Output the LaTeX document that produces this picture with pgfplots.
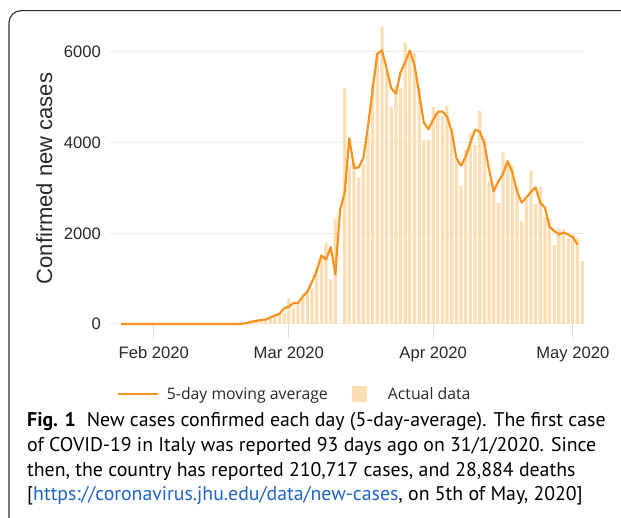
\documentclass[border=0pt]{standalone}
\usepackage{fontspec}
\setmainfont{Liberation Sans}
\newfontfamily\capfont{PT Sans}
\newfontfamily\legfont{Open Sans}
\usepackage{pgfplots}
\pgfplotsset{compat=1.18}
\definecolor{lineor}{RGB}{247,147,30}
\definecolor{barpeach}{RGB}{253,222,180}
\definecolor{gridg}{RGB}{235,235,235}
\definecolor{tickg}{RGB}{220,220,220}
\definecolor{frameg}{RGB}{45,45,45}
\definecolor{linkblue}{RGB}{30,100,205}
\definecolor{txt}{RGB}{40,40,40}

\pgfplotstableread{
d v
31 2
38 1
52 17
53 42
54 93
55 74
56 93
57 131
58 202
59 233
60 240
61 566
62 342
63 466
64 587
65 769
66 778
67 1247
68 1492
69 1797
70 977
71 2313
72 0
73 5198
74 3497
75 3590
76 3233
77 3526
78 4207
79 5322
80 5986
81 6557
82 5560
83 4789
84 5249
85 5210
86 6203
87 5909
88 5974
89 5217
90 4050
91 4053
92 4782
93 4668
94 4585
95 4805
96 4316
97 3599
98 3039
99 3836
100 4204
101 3951
102 4694
103 4092
104 3153
105 2972
106 2667
107 3786
108 3493
109 3491
110 3047
111 2256
112 2729
113 3370
114 2646
115 3021
116 2357
117 2324
118 1739
119 2091
120 2086
121 1872
122 1965
123 1900
124 1389
}\actual

\pgfplotstableread{
d v
25 0
29 0
30 0.7
31 0.7
32 0.7
33 0
36 0
37 0.3
38 0.3
39 0.3
40 0
50 0
51 5.7
52 19.7
53 50.7
54 69.7
55 86.7
56 99.3
57 142
58 188.7
59 225
60 346.3
61 382.7
62 458
63 465
64 607.3
65 711.3
66 931.3
67 1172.3
68 1512
69 1422
70 1695.7
71 1096.7
72 2503.7
73 2898.3
74 4095
75 3440
76 3449.7
77 3655.3
78 4351.7
79 5171.7
80 5955
81 6034.3
82 5635.3
83 5199.3
84 5082.7
85 5554
86 5774
87 6028.7
88 5700
89 5080.3
90 4440
91 4295
92 4501
93 4678.3
94 4686
95 4568.7
96 4240
97 3651.3
98 3491.3
99 3693
100 3997
101 4283
102 4245.7
103 3979.7
104 3405.7
105 2930.7
106 3141.7
107 3315.3
108 3590
109 3343.7
110 2931.3
111 2677.3
112 2785
113 2915
114 3012.3
115 2674.7
116 2567.3
117 2140
118 2051.3
119 1972
120 2016.3
121 1974.3
122 1912.3
123 1751.3
}\avg

\begin{document}
\begin{tikzpicture}[x=1bp,y=1bp]
\path[use as bounding box] (0,0) rectangle (621,518);
\begin{scope}
\clip (0,0) rectangle (621,518);
\draw[frameg, line width=1.1bp, rounded corners=12bp] (9,-30) rectangle (680,507.3);
\end{scope}
\begin{axis}[
  at={(110bp,194bp)}, anchor=south west,
  scale only axis, width=474bp, height=299.3bp,
  xmin=22.6, xmax=124.4, ymin=0, ymax=6600,
  axis line style={draw=none},
  clip=false,
  ytick={0,2000,4000,6000}, yticklabels={0,2000,4000,6000},
  ymajorgrids, grid style={gridg, line width=1bp},
  ytick style={draw=none},
  xtick={32,61,92,122}, xticklabels={Feb 2020,Mar 2020,Apr 2020,May 2020},
  xtick style={tickg, line width=1bp},
  tick align=outside, major tick length=15bp, tick pos=left,
  /pgf/number format/assume math mode=true,
  tick label style={font=\fontsize{16.6bp}{19bp}\selectfont, text=txt},
  yticklabel style={anchor=east, inner sep=0pt, xshift=6bp},
  xticklabel style={anchor=base, inner sep=0pt, yshift=-20bp},
  legend columns=2,
  legend style={at={(0.0141,-0.2339)}, anchor=west, draw=none, fill=none,
    inner sep=0pt, outer sep=0pt,
    nodes={inner sep=0pt, text=txt, font=\legfont\fontsize{15.8bp}{18bp}\selectfont},
    /tikz/every odd column/.append style={column sep=8bp},
    /tikz/every even column/.append style={column sep=24bp}},
]
\addlegendimage{legend image code/.code={\draw[lineor, line width=2.2bp] (0bp,0bp) -- (40bp,0bp);}}
\addlegendentry{5-day moving average}
\addlegendimage{legend image code/.code={\fill[barpeach] (0bp,-7.5bp) rectangle (14bp,7.5bp); \path (27.7bp,0bp);}}
\addlegendentry{Actual data}
\addplot[ybar, bar width=0.7, fill=barpeach, draw=none, forget plot] table[x=d, y=v] {\actual};
\addplot[lineor, line width=2.2bp, line join=round, forget plot] table[x=d, y=v] {\avg};
\end{axis}
\node[rotate=90, anchor=base, inner sep=0pt, text=txt, font=\fontsize{22bp}{24bp}\selectfont] at (52bp,339.5bp) {Confirmed new cases};
\begin{scope}[every node/.style={anchor=base west, inner sep=0pt, text=black, font=\capfont\fontsize{19.8bp}{22bp}\selectfont}]
\node at (27bp,91bp) {\textbf{Fig. 1}\hspace{0.55em}New cases confirmed each day (5-day-average). The first case};
\node at (27bp,66.3bp) {of COVID-19 in Italy was reported 93 days ago on 31/1/2020. Since};
\node at (27bp,41.6bp) {then, the country has reported 210,717 cases, and 28,884 deaths};
\node at (27bp,17bp) {[\textcolor{linkblue}{https://coronavirus.jhu.edu/data/new-cases}, on 5th of May, 2020]};
\end{scope}
\end{tikzpicture}
\end{document}
